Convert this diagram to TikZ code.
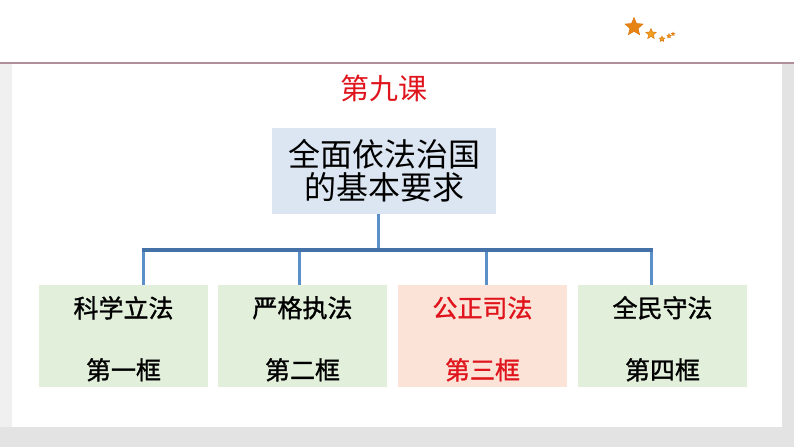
\documentclass[tikz,border=0pt]{standalone}
\usepackage{fontspec}
\newfontfamily\cjk{Noto Sans CJK SC}
\newfontfamily\cjkm[FakeBold=1.2]{Noto Sans CJK SC}
\usetikzlibrary{shapes.geometric}
\definecolor{bargray}{HTML}{E3E3E3}
\definecolor{leftgray}{HTML}{F0F0F0}
\definecolor{rulecol}{HTML}{B08E9A}
\definecolor{topfill}{HTML}{DCE6F2}
\definecolor{greenfill}{HTML}{E2EFDA}
\definecolor{pinkfill}{HTML}{FBE3D7}
\definecolor{titlered}{HTML}{E0141C}
\definecolor{barblue}{HTML}{4472A8}
\definecolor{dropblue}{HTML}{5B8FC8}
\definecolor{starorange}{HTML}{F0A020}
\definecolor{stardark}{HTML}{E07810}
\tikzset{
  leafbox/.style={draw=none, minimum width=169pt, minimum height=102pt, inner sep=0pt},
  leaftext/.style={font=\cjkm\fontsize{25}{25}\selectfont},
  dropline/.style={draw=dropblue, line width=3pt},
  barline/.style={draw=barblue, line width=4pt},
  starshape/.style={star, star points=5, star point ratio=2.2, inner sep=0pt, fill=starorange, draw=stardark, line width=0.5pt}
}
\begin{document}
\begin{tikzpicture}[x=1pt,y=-1pt]
\useasboundingbox (0,0) rectangle (794,447);
% background
\fill[bargray] (0,0) rectangle (794,447);
\fill[leftgray] (0,63) rectangle (12,427);
\fill[white] (0,0) rectangle (794,63);
\fill[white] (12,63) rectangle (782,427);
\draw[rulecol, line width=1.2pt] (0,63) -- (794,63);
% stars
\node[starshape, minimum size=19pt, fill=stardark!70!starorange] (s1) at (634,27) {};
\node[starshape, minimum size=11pt] (s2) at (651,34) {};
\node[starshape, minimum size=6pt] (s3) at (662,39) {};
\node[starshape, minimum size=4.5pt] (s4) at (669,36) {};
\node[starshape, minimum size=3.5pt] (s5) at (673,34) {};
% title
\node[text=titlered, font=\cjk\fontsize{29}{29}\selectfont] (title) at (384,88) {第九课};
% top box
\node[fill=topfill, minimum width=224pt, minimum height=86pt, inner sep=0pt, align=center,
      font=\cjk\fontsize{32}{33}\selectfont] (top) at (384,171) {全面依法治国\\的基本要求};
% bottom boxes
\node[leafbox, fill=greenfill] (b1) at (123.5,336) {};
\node[leafbox, fill=greenfill] (b2) at (302.5,336) {};
\node[leafbox, fill=pinkfill] (b3) at (482.5,336) {};
\node[leafbox, fill=greenfill] (b4) at (662.5,336) {};
\foreach \n/\a/\b/\c in {b1/科学立法/第一框/black, b2/严格执法/第二框/black, b3/公正司法/第三框/titlered, b4/全民守法/第四框/black}{
  \node[leaftext, text=\c] (\n t) at ([yshift=-23pt]\n.north) {\a};
  \node[leaftext, text=\c] (\n s) at ([yshift=-85pt]\n.north) {\b};
}
% connectors
\coordinate (bar) at (378,250);
\coordinate (barL) at (143,250);
\coordinate (barR) at (651,250);
\draw[dropline] (top.south -| bar) -- (bar);
\draw[dropline] (barL) -- (barL |- b1.north);
\draw[dropline] (299,250) -- (299,285);
\draw[dropline] (486,250) -- (486,285);
\draw[dropline] (barR) -- (barR |- b4.north);
\draw[barline] ([xshift=-1.5pt]barL) -- ([xshift=1.5pt]barR);
\end{tikzpicture}
\end{document}
